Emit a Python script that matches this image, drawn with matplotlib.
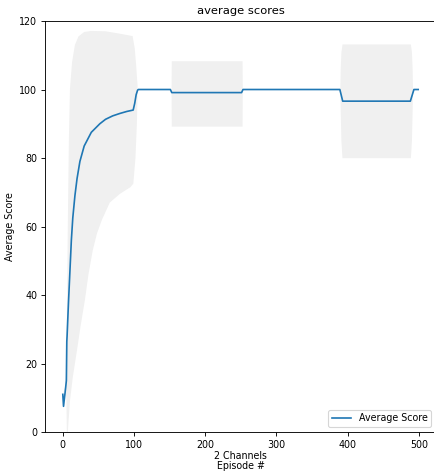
import numpy as np
import matplotlib
matplotlib.use('Agg')
import matplotlib.pyplot as plt

# mean score line (episode, score)
mean_x = [0, 1, 4, 5, 5.6, 6, 8, 10, 12, 14, 17, 20, 24, 30, 40, 52, 60, 70, 80, 90, 98.8,
          101, 103, 105, 106, 151, 153, 251, 253, 389, 393, 488, 493, 499]
mean_y = [11, 7.5, 13, 15, 26.4, 28, 38, 47, 56, 62.5, 69, 74, 79, 83.5, 87.5, 90, 91.3,
          92.3, 93.0, 93.6, 94, 96, 98.5, 99.8, 100, 100, 99.1, 99.1, 100, 100, 96.6, 96.6, 100, 100]

# std band, first block (upper edge and lower edge)
band1_upper_x = [0, 3, 5, 6, 7, 8.5, 10, 13, 17, 22, 30, 40, 60, 80, 98, 101, 103, 105]
band1_upper = [11, 13, 18, 40, 60, 85, 100, 108, 113, 115.5, 116.8, 117.1, 117, 116.3,
               115.6, 112, 107, 101]
band1_lower_x = [0, 3, 5, 6, 7, 10, 14, 20, 25, 31, 36, 42, 48, 55, 66, 80, 95, 99, 102, 104, 105]
band1_lower = [11, 12, 10, -5, 0, 9, 16, 24, 31, 38.5, 46, 53, 58, 62, 67, 69.5, 71.5, 72.5,
               80, 90, 99]

# second block
band2_x = [152, 152.3, 251.7, 252]
band2_upper = [100, 108.4, 108.4, 100]
band2_lower = [100, 89.3, 89.3, 100]

# third block
band3_x = [389, 389.5, 390.5, 392, 488, 489.5, 490.5, 491]
band3_upper = [100, 106, 111, 113.3, 113.3, 111, 106, 100]
band3_lower = [100, 94, 85, 80.1, 80.1, 85, 94, 100]

plt.rcParams['font.size'] = 8.6

fig = plt.figure(figsize=(5.425, 5.9), dpi=80)
ax = fig.add_axes([0.1037, 0.0847, 0.9009, 0.8708])

band_color = '#f0f0f0'
ax.fill(np.concatenate([band1_upper_x, band1_lower_x[::-1]]),
        np.concatenate([band1_upper, band1_lower[::-1]]),
        color=band_color, lw=0)
ax.fill_between(band2_x, band2_lower, band2_upper, color=band_color, lw=0)
ax.fill_between(band3_x, band3_lower, band3_upper, color=band_color, lw=0)

ax.plot(mean_x, mean_y, color='#1f77b4', lw=1.5, label='Average Score')

ax.set_xlim(-25, 524)
ax.set_ylim(0, 120)
ax.set_xticks([0, 100, 200, 300, 400, 500])
ax.set_yticks([0, 20, 40, 60, 80, 100, 120])
ax.set_title('average scores')
ax.set_xlabel('2 Channels\nEpisode #', labelpad=1, linespacing=1.0)
ax.set_ylabel('Average Score')
ax.legend(loc='lower right')

fig.savefig('out.png', dpi=80)
